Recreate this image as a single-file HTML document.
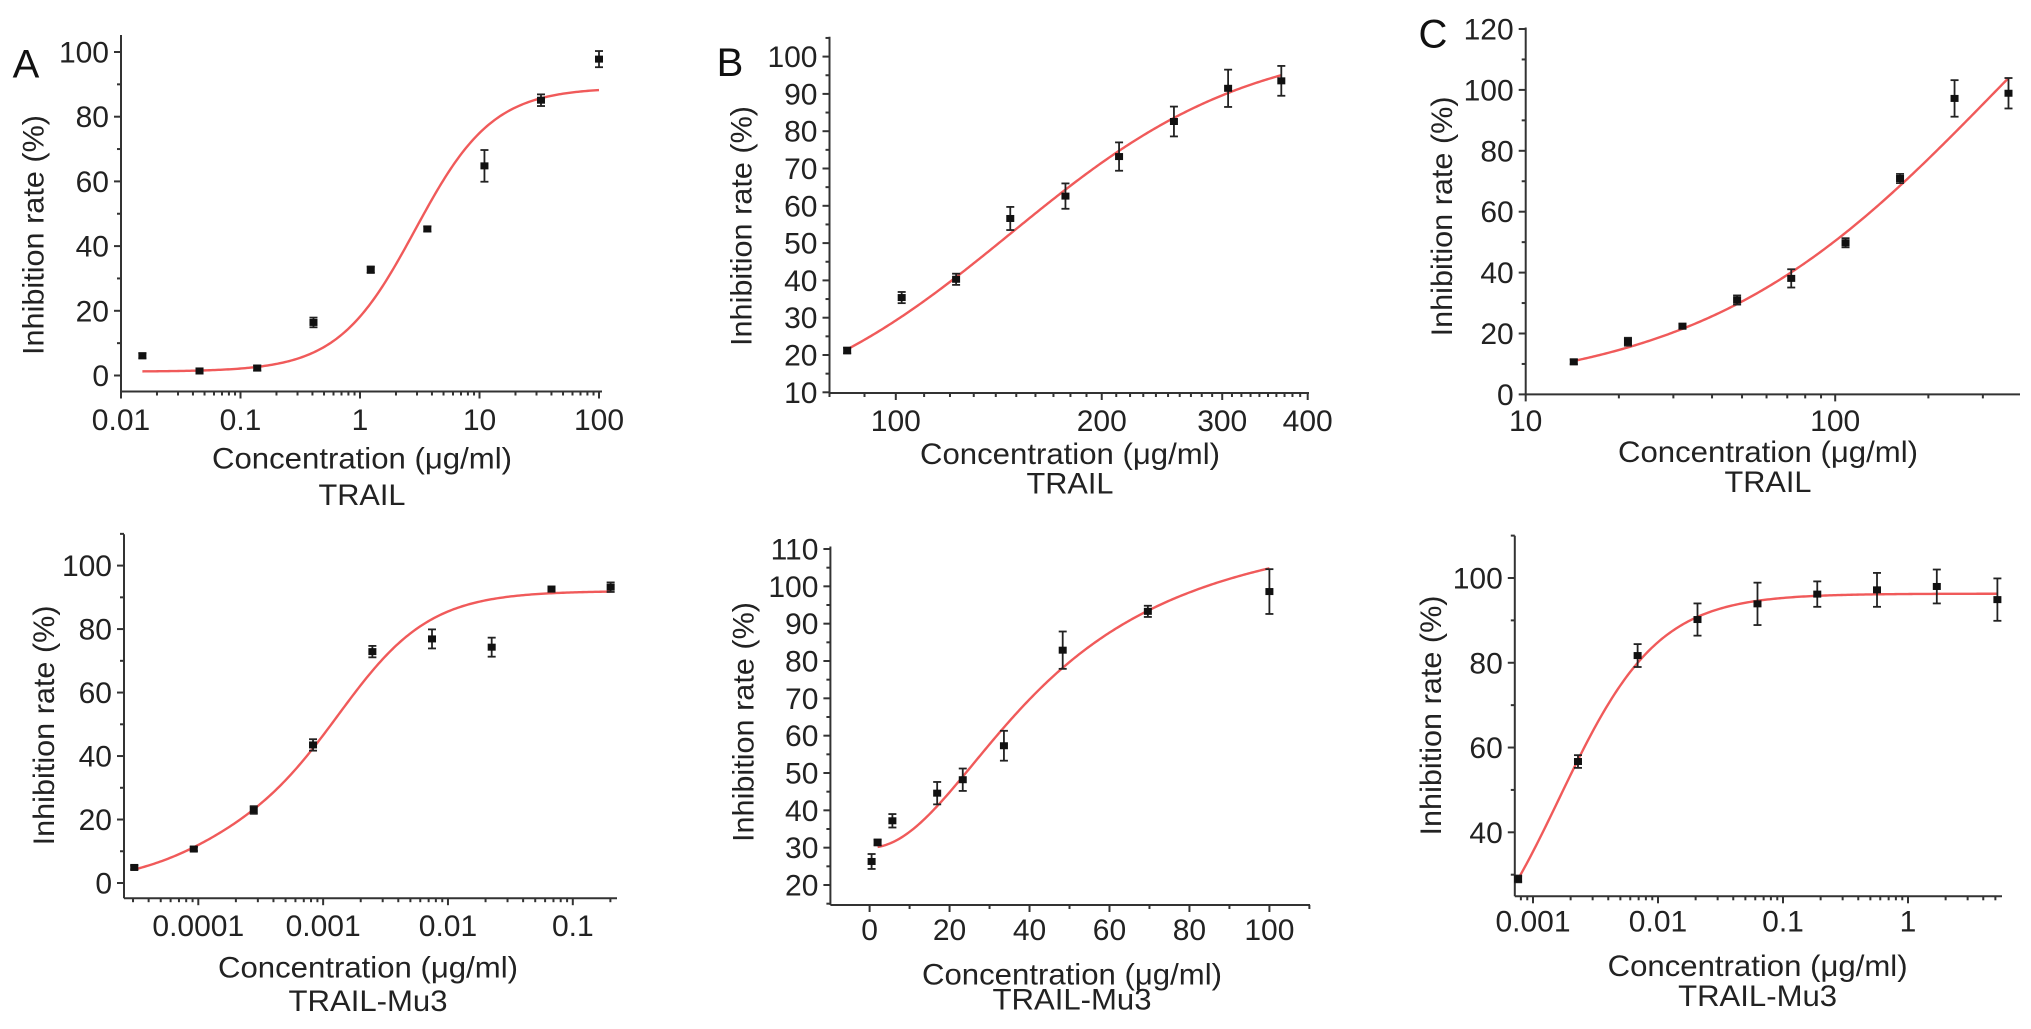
<!DOCTYPE html>
<html><head><meta charset="utf-8"><title>Inhibition rate curves</title>
<style>
html,body{margin:0;padding:0;background:#fff;overflow:hidden;}
svg{display:block;font-family:"Liberation Sans",Arial,sans-serif;}
</style></head>
<body>
<svg id="fig" width="2031" height="1029" viewBox="0 0 2031 1029" xmlns="http://www.w3.org/2000/svg"></svg>
<script>
// ---- Panel A (top-left) data ----
const aX = [0.0151, 0.0454, 0.138, 0.408, 1.23, 3.66, 11.0, 32.7, 100];
const aY = [6.1, 1.4, 2.3, 16.4, 32.7, 45.3, 64.8, 85.1, 97.8];
const aErr = [0.8, 0.8, 0.8, 1.5, 1.0, 0.8, 4.9, 1.8, 2.5];
const aFit = [1.2, 89, 2.9, 1.34];
const aYTicks = ["0","20","40","60","80","100"];
const aXTicks = ["0.01","0.1","1","10","100"];
// ---- Panel B (top-middle) data ----
const bX = [84.9, 102, 122.5, 147, 177, 212, 255, 306, 366];
const bY = [21.2, 35.4, 40.3, 56.6, 62.6, 73.2, 82.6, 91.5, 93.5];
const bErr = [0.8, 1.5, 1.5, 3.1, 3.4, 3.8, 4.0, 5.0, 4.0];
const bFit = [0, 105, 147, 2.47];
const bYTicks = ["10","20","30","40","50","60","70","80","90","100"];
const bXTicks = ["100","200","300","400"];
// ---- Panel C (top-right) data ----
const cX = [14.3, 21.4, 32.1, 48.2, 72.1, 108, 162, 243, 363];
const cY = [10.7, 17.3, 22.4, 31.0, 38.1, 49.8, 70.9, 97.2, 98.9];
const cErr = [0.8, 1.3, 0.8, 1.5, 3.0, 1.5, 1.5, 6.0, 5.0];
const cFit = [0, 200, 333, 0.904];
const cYTicks = ["0","20","40","60","80","100","120"];
const cXTicks = ["10","100"];
// ---- Panel D (bottom-left) data ----
const dX = [3.07e-5, 9.2e-5, 2.78e-4, 8.3e-4, 2.48e-3, 7.45e-3, 0.0224, 0.0675, 0.201];
const dY = [4.9, 10.7, 23.0, 43.5, 72.9, 76.9, 74.3, 92.6, 93.2];
const dErr = [0.6, 0.6, 1.2, 1.8, 1.8, 3.0, 3.0, 0.8, 1.5];
const dFit1 = [18, 1.0e-4, 1.2];
const dFit2 = [74, 1.4e-3, 1.2];
const dYTicks = ["0","20","40","60","80","100"];
const dXTicks = ["0.0001","0.001","0.01","0.1"];
// ---- Panel E (bottom-middle) data ----
const eX = [0.5, 2, 5.7, 16.9, 23.3, 33.6, 48.3, 69.6, 100];
const eY = [26.3, 31.4, 37.2, 44.6, 48.2, 57.3, 82.9, 93.3, 98.6];
const eErr = [2.0, 0.8, 1.8, 3.0, 3.0, 4.0, 5.0, 1.5, 6.0];
const eFit = [30, 120, 45, 2.0];
const eYTicks = ["20","30","40","50","60","70","80","90","100","110"];
const eXTicks = ["0","20","40","60","80","100"];
// ---- Panel F (bottom-right) data ----
const fX = [7.6e-4, 2.29e-3, 6.87e-3, 0.0207, 0.0625, 0.188, 0.565, 1.70, 5.19];
const fY = [29.0, 56.7, 81.7, 90.2, 93.9, 96.2, 97.2, 98.0, 94.9];
const fErr = [0.8, 1.5, 2.7, 3.8, 5.0, 3.0, 4.0, 4.0, 5.0];
const fFit = [0, 96.3, 1.63e-3, 1.105];
const fYTicks = ["40","60","80","100"];
const fXTicks = ["0.001","0.01","0.1","1"];

const NS = "http://www.w3.org/2000/svg";
const svg = document.getElementById('fig');
function mk(tag, attrs, parent){
  const e = document.createElementNS(NS, tag);
  for (const k in attrs) e.setAttribute(k, attrs[k]);
  (parent || svg).appendChild(e);
  return e;
}
function fourPL(p){ return x => p[0] + (p[1]-p[0])/(1+Math.pow(p[2]/x, p[3])); }

function panel(c){
  const g = mk('g', {});
  
  
  const lx = v => c.log ? Math.log10(v) : v;
  const sx = v => c.x0 + (lx(v) - lx(c.xd[0])) / (lx(c.xd[1]) - lx(c.xd[0])) * (c.x1 - c.x0);
  const sy = v => c.y0 + (v - c.yd[0]) / (c.yd[1] - c.yd[0]) * (c.y1 - c.y0);
  const A = c.axStart;
  const ax = mk('g', {stroke:'#333','stroke-width':2,fill:'none'}, g);
  
  
  mk('line', {x1:A, y1:c.axisY, x2:c.xEnd, y2:c.axisY}, ax);
  mk('line', {x1:A, y1:c.axisY, x2:A, y2:c.yTop}, ax);
  for (let v = c.yMinorStart; v <= c.yMax + 1e-9; v += c.yMinor){
    const r = (v - c.yMajorStart) / c.yMajor;
    const major = Math.abs(r - Math.round(r)) < 1e-6;
    const y = sy(v);
    if (y > c.axisY + 0.5) continue;
    mk('line', {x1:A, y1:y, x2:A - (major?7:4), y2:y}, ax);
  }
  c.yTicks.forEach(t => {
    const tx = mk('text', {x:A - 12, y:sy(+t) + 10.5, 'text-anchor':'end', 'font-size':30, fill:'#222'}, g);
    
    
    tx.textContent = t;
  });
  c.xTickVals.forEach(tk => {
    const x = sx(tk[0]);
    if (x < A - 0.5 || x > c.xEnd + 0.5) return;
    mk('line', {x1:x, y1:c.axisY, x2:x, y2:c.axisY + (tk[1]?7:4)}, ax);
  });
  c.xTicks.forEach(t => {
    const tx = mk('text', {x:sx(+t), y:c.axisY + c.xlOff + 10.5, 'text-anchor':'middle', 'font-size':30, fill:'#222'}, g);
    
    
    tx.textContent = t;
  });
  const xt = mk('text', {x:c.tx, y:c.axisY + c.tOff + 10.5, 'text-anchor':'middle', 'font-size':30, fill:'#222', textLength:300, lengthAdjust:'spacingAndGlyphs'}, g);
  
  
  xt.textContent = 'Concentration (\u03bcg/ml)';
  const st = mk('text', {x:c.tx, y:c.axisY + c.sOff + 10.5, 'text-anchor':'middle', 'font-size':30, fill:'#222', textLength:c.sub.length > 5 ? 159 : 87, lengthAdjust:'spacingAndGlyphs'}, g);
  
  
  st.textContent = c.sub;
  const yt = mk('text', {x:0, y:0, 'text-anchor':'middle', 'font-size':30, fill:'#222', textLength:240, lengthAdjust:'spacingAndGlyphs', transform:`translate(${c.ytx + 10.5},${c.yty}) rotate(-90)`}, g);
  
  
  yt.textContent = 'Inhibition rate (%)';
  if (c.letter){
    const lt = mk('text', {x:c.letter[1], y:c.letter[2] + 14, 'text-anchor':'middle', 'font-size':40, fill:'#111'}, g);
    
    
    lt.textContent = c.letter[0];
  }
  const xs = c.cx0, xe = c.cx1, N = 240;
  let d = '';
  for (let i = 0; i <= N; i++){
    const t = i / N;
    const xv = c.log ? Math.pow(10, Math.log10(xs) + t * (Math.log10(xe) - Math.log10(xs))) : xs + t * (xe - xs);
    d += (i ? 'L' : 'M') + sx(xv).toFixed(2) + ' ' + sy(c.f(xv)).toFixed(2);
  }
  const cv = mk('path', {d:d, stroke:'#f05a5a', 'stroke-width':2.4, fill:'none'}, g);
  
  
  c.X.forEach((xv, i) => {
    const px = sx(xv), py = sy(c.Y[i]);
    const yt1 = sy(c.Y[i] + c.E[i]), yb = sy(c.Y[i] - c.E[i]);
    const pg = mk('g', {stroke:'#222','stroke-width':1.8}, g);
    
    
    mk('line', {x1:px, y1:yt1, x2:px, y2:yb}, pg);
    mk('line', {x1:px-4, y1:yt1, x2:px+4, y2:yt1}, pg);
    mk('line', {x1:px-4, y1:yb, x2:px+4, y2:yb}, pg);
    mk('rect', {x:px-4, y:py-3.5, width:8, height:7, fill:'#111', stroke:'none'}, pg);
  });
}
function logTicks(lo, hi){
  const out = [];
  for (let dd = Math.floor(Math.log10(lo)); dd <= Math.ceil(Math.log10(hi)); dd++)
    for (let k = 1; k <= 9; k++){ const v = k * Math.pow(10, dd); if (v >= lo*0.999 && v <= hi*1.001) out.push([v, k === 1]); }
  return out;
}
function linTicks(lo, hi, minor, major){
  const out = [];
  for (let v = lo; v <= hi + 1e-9; v += minor) out.push([v, Math.abs(v/major - Math.round(v/major)) < 1e-6]);
  return out;
}
function bTicks(){
  const out = [];
  for (let v = 80; v <= 400; v += 10) out.push([v, v % 100 === 0]);
  return out;
}

panel({name:'panel-a-trail', log:true, axStart:121, x0:121, x1:599, xd:[0.01,100], xEnd:602, y0:375.5, y1:52, yd:[0,100], axisY:391.5, yTop:35,
  yMinorStart:0, yMinor:10, yMajorStart:0, yMajor:20, yMax:100, yTicks:aYTicks, xTicks:aXTicks, xTickVals:logTicks(0.01,100),
  xlOff:28, tOff:66.5, sOff:103, tx:362, sub:'TRAIL', ytx:33, yty:235, letter:['A',26,63.5],
  X:aX, Y:aY, E:aErr, f:fourPL(aFit), cx0:aX[0], cx1:aX[aX.length-1]});

panel({name:'panel-b-trail', log:true, axStart:829.5, x0:895.8, x1:1307.7, xd:[100,400], xEnd:1309, y0:392.3, y1:56.6, yd:[10,100], axisY:393, yTop:36.7,
  yMinorStart:10, yMinor:5, yMajorStart:10, yMajor:10, yMax:105, yTicks:bYTicks, xTicks:bXTicks, xTickVals:bTicks(),
  xlOff:27.5, tOff:60.4, sOff:90, tx:1070, sub:'TRAIL', ytx:741, yty:226, letter:['B',730,62],
  X:bX, Y:bY, E:bErr, f:fourPL(bFit), cx0:bX[0], cx1:bX[bX.length-1]});

panel({name:'panel-c-trail', log:true, axStart:1525.7, x0:1525.7, x1:1835.2, xd:[10,100], xEnd:2020, y0:394.4, y1:29, yd:[0,120], axisY:394.4, yTop:27.5,
  yMinorStart:0, yMinor:10, yMajorStart:0, yMajor:20, yMax:120, yTicks:cYTicks, xTicks:cXTicks, xTickVals:logTicks(10,395),
  xlOff:26, tOff:57, sOff:87, tx:1768, sub:'TRAIL', ytx:1441.5, yty:216.4, letter:['C',1433,33.6],
  X:cX, Y:cY, E:cErr, f:fourPL(cFit), cx0:cX[0], cx1:cX[cX.length-1]});

panel({name:'panel-d-trail-mu3', log:true, axStart:124, x0:198.3, x1:572.8, xd:[1e-4,0.1], xEnd:617, y0:883, y1:565.6, yd:[0,100], axisY:898.2, yTop:534.2,
  yMinorStart:0, yMinor:10, yMajorStart:0, yMajor:20, yMax:110, yTicks:dYTicks, xTicks:dXTicks, xTickVals:logTicks(2.6e-5,0.22),
  xlOff:27.5, tOff:69, sOff:102.5, tx:368, sub:'TRAIL-Mu3', ytx:43.6, yty:725.4, letter:null,
  X:dX, Y:dY, E:dErr, f:(x => fourPL([0,dFit1[0],dFit1[1],dFit1[2]])(x) + fourPL([0,dFit2[0],dFit2[1],dFit2[2]])(x)), cx0:dX[0], cx1:dX[dX.length-1]});

panel({name:'panel-e-trail-mu3', log:false, axStart:830.4, x0:869.6, x1:1269.4, xd:[0,100], xEnd:1310, y0:885, y1:549, yd:[20,110], axisY:905, yTop:546.5,
  yMinorStart:15, yMinor:5, yMajorStart:20, yMajor:10, yMax:110, yTicks:eYTicks, xTicks:eXTicks, xTickVals:linTicks(-10,110,10,20),
  xlOff:24.5, tOff:69, sOff:94, tx:1072, sub:'TRAIL-Mu3', ytx:743, yty:722, letter:null,
  X:eX, Y:eY, E:eErr, f:fourPL(eFit), cx0:2, cx1:100});

panel({name:'panel-f-trail-mu3', log:true, axStart:1514.8, x0:1533, x1:1908, xd:[0.001,1], xEnd:2002, y0:832.3, y1:578, yd:[40,100], axisY:896.3, yTop:535.8,
  yMinorStart:30, yMinor:10, yMajorStart:40, yMajor:20, yMax:110, yTicks:fYTicks, xTicks:fXTicks, xTickVals:logTicks(7.1e-4,5.6),
  xlOff:24.5, tOff:69, sOff:99.4, tx:1757.6, sub:'TRAIL-Mu3', ytx:1430.6, yty:715.5, letter:null,
  X:fX, Y:fY, E:fErr, f:fourPL(fFit), cx0:fX[0], cx1:fX[fX.length-1]});
</script>
</body></html>
